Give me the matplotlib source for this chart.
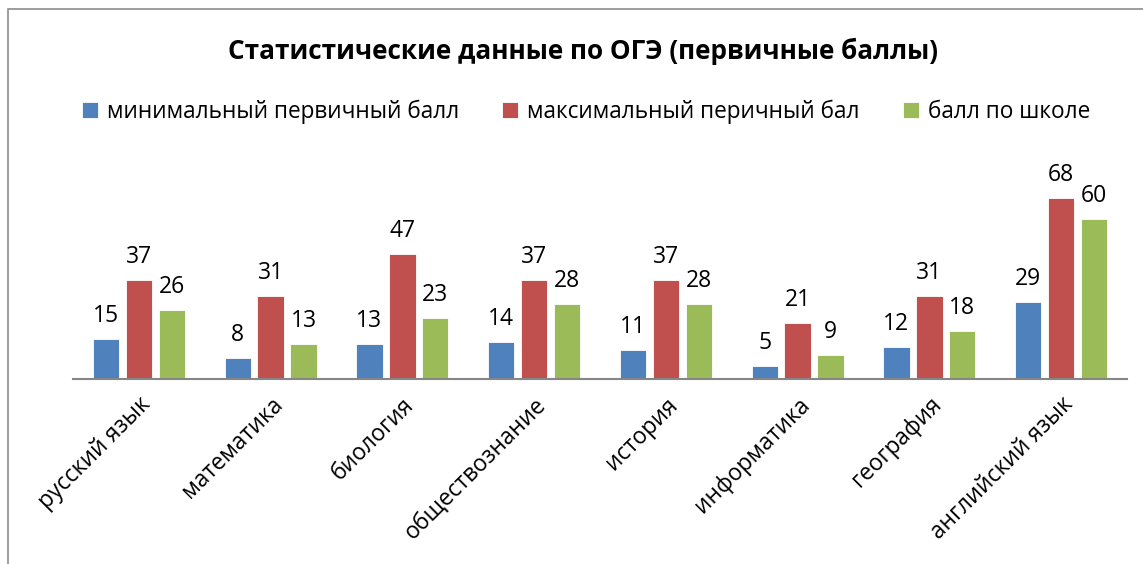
import numpy as np
import matplotlib.pyplot as plt
from matplotlib.patches import Rectangle

plt.rcParams['font.family'] = ['Open Sans', 'DejaVu Sans']

subjects = ["русский язык", "математика", "биология", "обществознание",
            "история", "информатика", "география", "английский язык"]
min_score = [15, 8, 13, 14, 11, 5, 12, 29]
max_score = [37, 31, 47, 37, 37, 21, 31, 68]
school_score = [26, 13, 23, 28, 28, 9, 18, 60]
series_names = ["минимальный первичный балл", "максимальный перичный бал", "балл по школе"]
colors = ["#4F81BD", "#C0504D", "#9BBB59"]

W, H = 1143, 564
fig = plt.figure(figsize=(W / 100, H / 100), dpi=100)
# chart frame (cut by image edge on right/bottom)
fig.patches.append(Rectangle((8 / W, -0.1), 1.2, 1 - 9 / H + 0.1, transform=fig.transFigure,
                             fill=False, edgecolor="#8c8c8c", lw=1.2))

ax = fig.add_axes([73 / W, 1 - 379 / H, (1127 - 73) / W, (379 - 166) / H])
x = np.arange(len(subjects))
w = 0.2
for i, (vals, name, c) in enumerate(zip([min_score, max_score, school_score], series_names, colors)):
    bars = ax.bar(x + (i - 1) * 0.25, vals, w, color=c, label=name, edgecolor="white", linewidth=0.6)
    ax.bar_label(bars, padding=8, fontsize=16.5)

ax.set_xlim(-0.5, len(subjects) - 0.5)
ax.set_ylim(0, 80)
ax.set_yticks([])
for s in ["top", "right", "left"]:
    ax.spines[s].set_visible(False)
ax.spines["bottom"].set_color("#868686")
ax.spines["bottom"].set_linewidth(1.5)
ax.set_xticks(x)
ax.set_xticklabels(subjects, rotation=45, ha="right", va="top", rotation_mode="anchor", fontsize=16.5)
ax.tick_params(axis="x", length=0, pad=10)
ax.patch.set_alpha(0)

fig.text(0.5 * (228 + 937) / W, 1 - 51 / H, "Статистические данные по ОГЭ (первичные баллы)",
         ha="center", va="center", fontsize=18.8, fontweight="bold")
fig.legend(loc="center", bbox_to_anchor=(0.5 * (90 + 1082) / W, 1 - 112 / H), ncol=3, frameon=False,
           fontsize=16.3, handlelength=0.7, handleheight=0.7, handletextpad=0.4, columnspacing=1.9)

fig.savefig("out.png", dpi=100)
